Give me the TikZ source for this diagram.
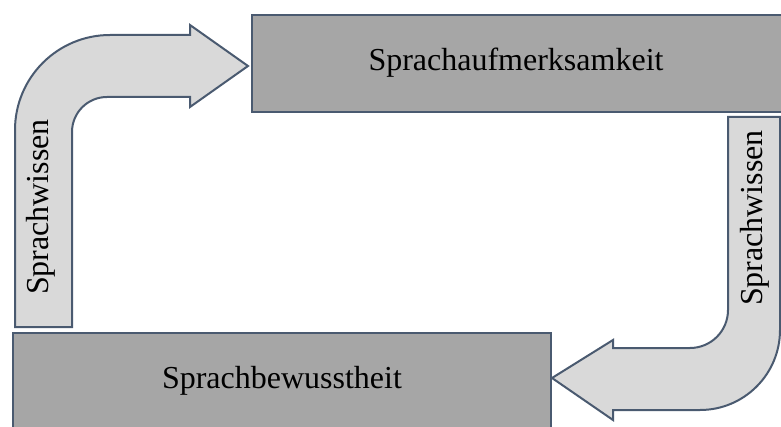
\documentclass[tikz,border=0pt]{standalone}
\usepackage{fontspec}
\setmainfont{Liberation Serif}
\definecolor{edgec}{HTML}{4A5A70}
\definecolor{boxfill}{HTML}{A6A6A6}
\definecolor{arrowfill}{HTML}{D9D9D9}
\tikzset{
  boxstyle/.style={draw=edgec, fill=boxfill, line width=2pt},
  arrowstyle/.style={draw=edgec, fill=arrowfill, line width=2pt, line join=miter},
  lbl/.style={font=\fontsize{32}{38}\selectfont, inner sep=0pt},
}
\begin{document}
\begin{tikzpicture}[x=1pt,y=-1pt]
\useasboundingbox (0,0) rectangle (781,427);
\begin{scope}
\clip (0,0) rectangle (781,427);
% boxes
\draw[boxstyle] (252,15) rectangle (800,112);
\draw[boxstyle] (13,333) rectangle (551,440);
% left bent arrow
\draw[arrowstyle] (15,327) -- (15,130) arc[start angle=180, end angle=270, radius=95]
  -- (190,35) -- (190,25) -- (248,66) -- (190,107) -- (190,97) -- (107,97)
  arc[start angle=270, end angle=180, radius=35] -- (72,327) -- cycle;
% right bent arrow
\draw[arrowstyle] (728,117) -- (780,117) -- (780,330)
  arc[start angle=0, end angle=90, radius=80] -- (613,410) -- (613,420) -- (552,378)
  -- (613,340) -- (613,348) -- (690,348)
  arc[start angle=90, end angle=0, radius=38] -- cycle;
\end{scope}
\node[lbl] (top) at (516,63) {Sprachaufmerksamkeit};
\node[lbl] (bot) at (282,381) {Sprachbewusstheit};
\node[lbl, rotate=90] (lw) at (41,207) {Sprachwissen};
\node[lbl, rotate=90] (rw) at (755,218) {Sprachwissen};
\end{tikzpicture}
\end{document}
